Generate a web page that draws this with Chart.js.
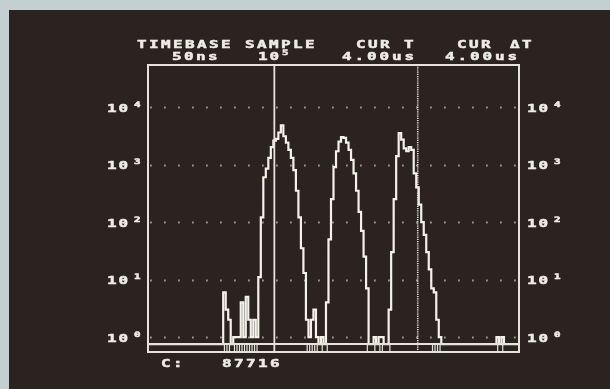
<!DOCTYPE html>
<html>
<head>
<meta charset="utf-8">
<script src="https://cdn.jsdelivr.net/npm/chart.js@4.4.0/dist/chart.umd.min.js"></script>
<style>
  html, body { margin: 0; padding: 0; background: #c4cfd2; overflow: hidden; }
  #panel { position: absolute; left: 9px; top: 10px; width: 601px; height: 379px; background: #2a2320; }
  #wrap { position: absolute; left: 0; top: 0; width: 610px; height: 389px; }
</style>
</head>
<body>
<div id="panel"></div>
<div id="wrap"><canvas id="scopeChart" width="610" height="389"></canvas></div>
<script>
// histogram, one value per channel (counts, log scale)
const channelCount = 148;
const counts = [
    0, 0, 0, 0, 0, 0, 0, 0, 0, 0,
    0, 0, 0, 0, 0, 0, 0, 0, 0, 0,
    0, 0, 0, 0, 0, 0, 0, 0, 0, 0,
    6, 3, 2, 0, 1, 1, 1, 4, 1, 5,
    2, 1, 2, 1, 11, 120, 600, 850, 1300, 2000,
    2600, 2800, 3600, 4800, 3100, 2400, 1800, 1300, 800, 350,
    120, 35, 13, 2, 1, 2, 3, 1, 0, 1,
    0, 4, 50, 250, 900, 1700, 2500, 3000, 2900, 2400,
    1800, 1200, 700, 350, 150, 70, 25, 7, 0, 0,
    1, 0, 1, 1, 0, 0, 3, 30, 250, 1400,
    3500, 2700, 1900, 1700, 2000, 1800, 700, 400, 200, 100,
    60, 30, 15, 7, 6, 2, 1, 0, 0, 0,
    0, 0, 0, 0, 0, 0, 0, 0, 0, 0,
    0, 0, 0, 0, 0, 0, 0, 0, 0, 1,
    0, 1, 0, 0, 0, 0, 0, 0
];
const decades = [1, 10, 100, 1000, 10000];
const decadeExponents = ['0', '1', '2', '3', '4'];
const floorValue = 0.755;     // empty channels sit on the inner base line
const yMin = 0.55;
const yMax = 53700;
const cursorT = 50.4;         // solid cursor, channel
const cursorDelta = 107.6;    // dotted cursor, channel

const textColor = '#efece6';
const frameColor = '#e6e3dc';
const traceColor = '#f4f1ea';
const dotColor = '#9a948d';

function scopeText(ctx, str, x, y, pitch, size) {
    ctx.font = 'bold ' + size + 'px "DejaVu Sans Mono"';
    ctx.textAlign = 'left';
    ctx.textBaseline = 'middle';
    ctx.strokeStyle = textColor;
    ctx.lineWidth = 0.5;
    for (let i = 0; i < str.length; i++) {
        ctx.save();
        ctx.translate(x + i * pitch, y);
        ctx.scale(1.45, 1);
        ctx.fillText(str[i], 0, 0);
        ctx.strokeText(str[i], 0, 0);
        ctx.restore();
    }
}

const scopeDecor = {
    id: 'scopeDecor',
    beforeDatasetsDraw(chart) {
        const { ctx, chartArea: a, scales: { x, y } } = chart;
        ctx.save();
        // dotted rows at every decade
        ctx.strokeStyle = dotColor;
        ctx.lineWidth = 1.8;
        ctx.setLineDash([1.8, 12.2]);
        ctx.lineDashOffset = 12;
        decades.forEach(v => {
            const py = Math.round(y.getPixelForValue(v)) + 0.5;
            ctx.beginPath();
            ctx.moveTo(a.left, py);
            ctx.lineTo(a.right, py);
            ctx.stroke();
        });
        ctx.setLineDash([]);
        // marks in the strip under the base line
        const base = y.getPixelForValue(floorValue);
        ctx.strokeStyle = frameColor;
        ctx.lineWidth = 1.2;
        counts.forEach((c, i) => {
            if (c >= 1 && c < 10) {
                const px = x.getPixelForValue(i + 0.5);
                ctx.beginPath();
                ctx.moveTo(px, base);
                ctx.lineTo(px, a.bottom);
                ctx.stroke();
            }
        });
        ctx.restore();
    },
    afterDraw(chart) {
        const { ctx, chartArea: a, scales: { x, y } } = chart;
        ctx.save();
        ctx.strokeStyle = frameColor;
        ctx.lineWidth = 2;
        ctx.strokeRect(a.left, a.top, a.right - a.left, a.bottom - a.top);
        const base = y.getPixelForValue(floorValue);
        ctx.beginPath();
        ctx.moveTo(a.left, base);
        ctx.lineTo(a.right, base);
        ctx.stroke();

        // cursors
        ctx.lineWidth = 1.8;
        let cx = x.getPixelForValue(cursorT);
        ctx.beginPath();
        ctx.moveTo(cx, a.top);
        ctx.lineTo(cx, a.bottom);
        ctx.stroke();
        ctx.lineWidth = 1.6;
        ctx.setLineDash([1.2, 1]);
        cx = x.getPixelForValue(cursorDelta);
        ctx.beginPath();
        ctx.moveTo(cx, a.top);
        ctx.lineTo(cx, a.bottom);
        ctx.stroke();
        ctx.setLineDash([]);

        // decade labels, both sides
        ctx.fillStyle = textColor;
        decades.forEach((v, k) => {
            const py = y.getPixelForValue(v) + 2;
            [a.left - 41, a.right + 8].forEach(lx => {
                scopeText(ctx, '10', lx, py, 11.5, 11);
                scopeText(ctx, decadeExponents[k], lx + 27, py - 4, 0, 7.5);
            });
        });

        // header and counter
        scopeText(ctx, 'TIMEBASE SAMPLE', 137, 45, 12, 11);
        scopeText(ctx, 'CUR T', 356, 45, 12, 11);
        scopeText(ctx, 'CUR', 457, 45, 12, 11);
        scopeText(ctx, '\u0394T', 510, 45, 12, 11);
        scopeText(ctx, '50ns', 172, 57, 12, 11);
        scopeText(ctx, '10', 258, 57, 11.5, 11);
        scopeText(ctx, '5', 282, 53, 0, 7.5);
        scopeText(ctx, '4.00us', 342, 57, 12.5, 11);
        scopeText(ctx, '4.00us', 445, 57, 12.5, 11);
        scopeText(ctx, 'C:', 161, 364, 12, 11);
        scopeText(ctx, '87716', 222, 364, 12, 11);
        ctx.restore();
    }
};

const points = counts.map((c, i) => ({ x: i, y: c > 0 ? c : floorValue }));
points.push({ x: channelCount, y: floorValue });

const ctx = document.getElementById('scopeChart').getContext('2d');
const scopeChart = new Chart(ctx, {
    type: 'line',
    data: {
        datasets: [{
            label: 'counts',
            data: points,
            stepped: 'before',
            borderColor: traceColor,
            borderWidth: 2.2,
            pointRadius: 0,
            fill: false
        }]
    },
    options: {
        responsive: false,
        animation: false,
        devicePixelRatio: 1,
        layout: { padding: { left: 148, right: 91, top: 65, bottom: 37 } },
        plugins: { legend: { display: false }, tooltip: { enabled: false } },
        scales: {
            x: { type: 'linear', min: 0, max: channelCount, display: false },
            y: { type: 'logarithmic', min: yMin, max: yMax, display: false }
        }
    },
    plugins: [scopeDecor]
});
</script>
</body>
</html>
